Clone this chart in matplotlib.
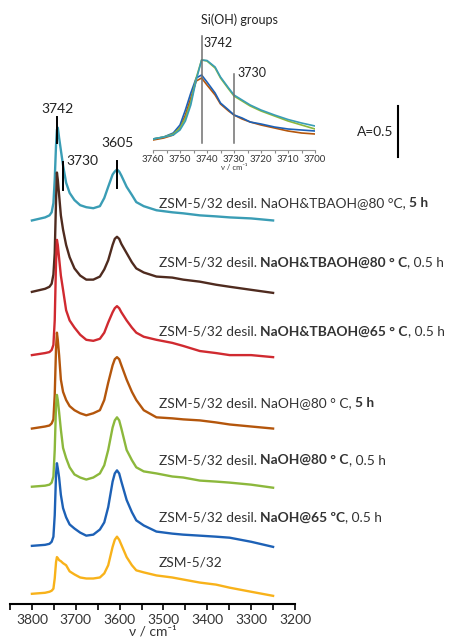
import matplotlib
matplotlib.use("Agg")
import matplotlib.pyplot as plt
from matplotlib.ticker import MultipleLocator

plt.rcParams['font.family'] = ['Lato', 'DejaVu Sans']

# ---- stacked IR spectra (absorbance incl. vertical offset) ----
wavenumber = [3800, 3770, 3760, 3755, 3751, 3748, 3745, 3743, 3741, 3738, 3734, 3729,
              3722, 3714, 3703, 3690, 3676, 3660, 3645, 3635, 3626, 3616, 3611, 3606,
              3601, 3596, 3584, 3572, 3562, 3545, 3516, 3480, 3455, 3417, 3380, 3349,
              3300, 3250]

zsm_parent = [0.10, 0.11, 0.12, 0.13, 0.15, 0.25, 0.41, 0.46, 0.45, 0.43, 0.42, 0.40,
              0.38, 0.32, 0.29, 0.26, 0.25, 0.25, 0.26, 0.30, 0.38, 0.56, 0.63, 0.66,
              0.63, 0.58, 0.46, 0.38, 0.33, 0.31, 0.28, 0.26, 0.24, 0.21, 0.19, 0.16,
              0.12, 0.08]
naoh65_05h = [0.57, 0.58, 0.59, 0.61, 0.66, 0.87, 1.27, 1.38, 1.33, 1.24, 1.07, 0.94,
              0.85, 0.78, 0.74, 0.70, 0.67, 0.68, 0.73, 0.80, 0.95, 1.20, 1.28, 1.31,
              1.28, 1.20, 1.02, 0.90, 0.82, 0.77, 0.71, 0.69, 0.68, 0.67, 0.66, 0.65,
              0.61, 0.56]
naoh80_05h = [1.15, 1.16, 1.17, 1.19, 1.25, 1.51, 1.95, 2.05, 2.00, 1.88, 1.71, 1.53,
              1.43, 1.34, 1.27, 1.24, 1.22, 1.24, 1.28, 1.36, 1.51, 1.73, 1.80, 1.83,
              1.80, 1.72, 1.51, 1.41, 1.34, 1.30, 1.28, 1.25, 1.24, 1.21, 1.20, 1.19,
              1.17, 1.14]
naoh80_5h = [1.72, 1.74, 1.75, 1.77, 1.81, 2.05, 2.51, 2.66, 2.59, 2.44, 2.20, 2.08,
             2.00, 1.94, 1.90, 1.87, 1.85, 1.87, 1.90, 2.00, 2.17, 2.34, 2.40, 2.42,
             2.40, 2.34, 2.20, 2.08, 2.00, 1.90, 1.83, 1.82, 1.81, 1.80, 1.78, 1.76,
             1.74, 1.72]
tbaoh65_05h = [2.44, 2.46, 2.47, 2.49, 2.54, 2.78, 3.35, 3.57, 3.52, 3.39, 3.22, 3.08,
               2.88, 2.78, 2.71, 2.64, 2.59, 2.58, 2.60, 2.66, 2.76, 2.86, 2.90, 2.92,
               2.90, 2.86, 2.78, 2.71, 2.66, 2.62, 2.59, 2.56, 2.53, 2.48, 2.46, 2.44,
               2.44, 2.42]
tbaoh80_05h = [3.06, 3.09, 3.11, 3.14, 3.23, 3.44, 3.96, 4.23, 4.16, 4.01, 3.81, 3.67,
               3.52, 3.40, 3.29, 3.22, 3.18, 3.18, 3.21, 3.28, 3.37, 3.52, 3.58, 3.60,
               3.58, 3.53, 3.44, 3.35, 3.29, 3.25, 3.21, 3.20, 3.18, 3.16, 3.13, 3.11,
               3.08, 3.05]
tbaoh80_5h = [3.76, 3.79, 3.81, 3.84, 3.93, 4.16, 4.50, 4.65, 4.67, 4.57, 4.45, 4.30,
              4.13, 4.03, 3.96, 3.91, 3.89, 3.88, 3.90, 3.98, 4.09, 4.21, 4.24, 4.26,
              4.24, 4.20, 4.09, 4.01, 3.94, 3.90, 3.86, 3.84, 3.83, 3.81, 3.80, 3.79,
              3.78, 3.76]

c_teal, c_dbrown, c_red = '#3a9db5', '#4f2b1f', '#d02a30'
c_brown, c_green, c_blue, c_yellow = '#b4560c', '#8cb83c', '#1d61b6', '#f8b21a'

series = [
    (tbaoh80_5h, c_teal, 3.93,
     [("ZSM-5/32 desil. NaOH&TBAOH@80 °C, ", False), ("5 h", True)]),
    (tbaoh80_05h, c_dbrown, 3.35,
     [("ZSM-5/32 desil. ", False), ("NaOH&TBAOH@80 ° C", True), (", 0.5 h", False)]),
    (tbaoh65_05h, c_red, 2.67,
     [("ZSM-5/32 desil. ", False), ("NaOH&TBAOH@65 ° C", True), (", 0.5 h", False)]),
    (naoh80_5h, c_brown, 1.97,
     [("ZSM-5/32 desil. NaOH@80 ° C, ", False), ("5 h", True)]),
    (naoh80_05h, c_green, 1.41,
     [("ZSM-5/32 desil. ", False), ("NaOH@80 ° C", True), (", 0.5 h", False)]),
    (naoh65_05h, c_blue, 0.85,
     [("ZSM-5/32 desil. ", False), ("NaOH@65 ºC", True), (", 0.5 h", False)]),
    (zsm_parent, c_yellow, 0.41, [("ZSM-5/32", False)]),
]

# ---- inset: Si(OH) region ----
inset_wn = [3760, 3756, 3752.5, 3750, 3748, 3746, 3744, 3742, 3740, 3737, 3735, 3732,
            3730, 3727, 3724, 3720, 3715, 3710, 3705, 3700]
inset_teal = [11, 13, 15, 20, 29, 45, 70, 90, 89.5, 83, 73, 62, 55, 50, 45, 40, 35, 30.5, 27, 24]
inset_green = [11, 13, 16, 22, 32, 48, 72, 90, 89, 82, 72, 61, 54, 49, 44, 39, 34, 29, 25, 21]
inset_orange = [10, 12, 15, 22, 35, 52, 69, 72, 65, 55, 46, 39, 35, 31, 28, 25, 22, 19, 17, 16]
inset_blue = [11, 13, 17, 25, 40, 57, 72, 75, 68, 57, 47, 40, 35, 32, 28, 26, 23, 21, 20, 19]

W, H = 449, 642
fig = plt.figure(figsize=(W / 100, H / 100), dpi=100)
ax = fig.add_axes([10 / W, 38 / H, 285 / W, 509 / H])

for values, color, ylab, parts in series:
    ax.plot(wavenumber, values, color=color, lw=1.7, solid_joinstyle='round')
    prev = ax.text(3511, ylab, parts[0][0], fontsize=9.9, color='#333333',
                   fontweight='bold' if parts[0][1] else 'normal', va='center', ha='left')
    for s, bold in parts[1:]:
        prev = ax.annotate(s, xy=(1, 0), xycoords=prev, fontsize=9.9, color='#333333',
                           fontweight='bold' if bold else 'normal', va='bottom', ha='left')

# band markers
ax.plot([3742, 3742], [4.52, 4.77], color='black', lw=1.4)
ax.text(3742, 4.85, "3742", ha='center', va='center', fontsize=10, color='#222222')
ax.plot([3730, 3730], [4.06, 4.33], color='black', lw=1.4)
ax.text(3721, 4.34, "3730", ha='left', va='center', fontsize=10, color='#222222')
ax.plot([3605, 3605], [4.08, 4.34], color='black', lw=1.4)
ax.text(3605, 4.52, "3605", ha='center', va='center', fontsize=10, color='#222222')

# absorbance scale bar
ax.plot([2965, 2965], [4.38, 4.88], color='black', lw=1.5, clip_on=False)
ax.text(2975, 4.63, "A=0.5", ha='right', va='center', fontsize=9.9, color='#222222')

ax.set_xlim(3850, 3200)
ax.set_ylim(0, 4.99)
ax.xaxis.set_major_locator(MultipleLocator(100))
ax.xaxis.set_minor_locator(MultipleLocator(50))
ax.tick_params(axis='x', which='both', direction='out', length=4, width=1.2,
               labelsize=10, labelcolor='#333333', pad=3)
ax.set_yticks([])
for side in ('left', 'right', 'top'):
    ax.spines[side].set_visible(False)
ax.spines['bottom'].set_linewidth(1.5)
ax.set_xlabel("ν / cm⁻¹", fontsize=10, color='#333333', labelpad=0)

# inset
axi = fig.add_axes([153 / W, (H - 150) / H, 162 / W, 120 / H])
axi.patch.set_alpha(0)
axi.plot(inset_wn, inset_orange, color=c_brown, lw=1.2)
axi.plot(inset_wn, inset_blue, color=c_blue, lw=1.2)
axi.plot(inset_wn, inset_green, color=c_green, lw=1.2)
axi.plot(inset_wn, inset_teal, color=c_teal, lw=1.2)
axi.plot([3742, 3742], [7, 114], color='#707070', lw=1.1)
axi.plot([3730, 3730], [7, 76], color='#707070', lw=1.1)
axi.text(3741.2, 107, "3742", ha='left', va='center', fontsize=9, color='#222222')
axi.text(3728.6, 77, "3730", ha='left', va='center', fontsize=9, color='#222222')
axi.text(3728, 130, "Si(OH) groups", ha='center', va='center', fontsize=9,
         color='#222222', clip_on=False)
axi.set_xlim(3760, 3700)
axi.set_ylim(0, 120)
axi.xaxis.set_major_locator(MultipleLocator(10))
axi.xaxis.set_minor_locator(MultipleLocator(5))
axi.tick_params(axis='x', which='both', direction='out', length=2, width=0.8,
                color='#888888', labelsize=7, labelcolor='#333333', pad=1.5)
axi.set_yticks([])
for side in ('left', 'right', 'top'):
    axi.spines[side].set_visible(False)
axi.spines['bottom'].set_color('#999999')
axi.spines['bottom'].set_linewidth(0.8)
axi.set_xlabel("ν / cm⁻¹", fontsize=5.5, color='#333333', labelpad=0)

fig.savefig("out.png", dpi=100)
